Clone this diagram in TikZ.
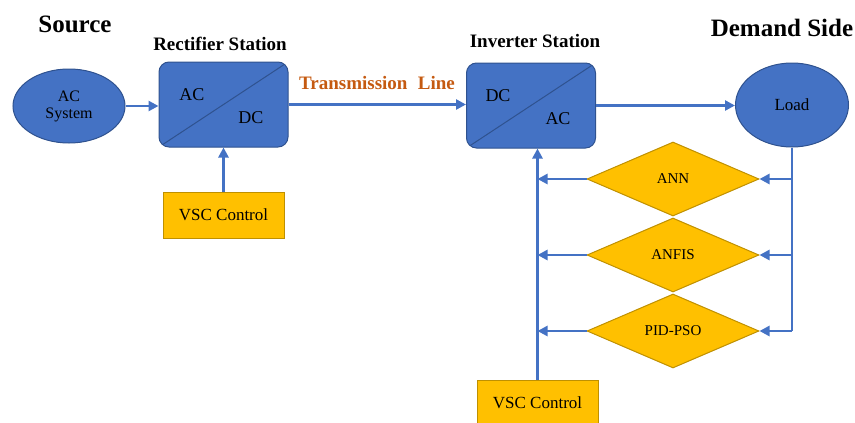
\documentclass[tikz,border=0pt]{standalone}
\usepackage{fontspec}
\setmainfont{Liberation Serif}
\usetikzlibrary{shapes.geometric,arrows.meta}

\definecolor{boxblue}{HTML}{4472C4}
\definecolor{boxedge}{HTML}{2F528F}
\definecolor{gold}{HTML}{FFC000}
\definecolor{goldedge}{HTML}{BF9000}
\definecolor{lineorange}{HTML}{C55A11}

\begin{document}
\begin{tikzpicture}[x=1pt,y=-1pt,
  station/.style={draw=boxedge, line width=1pt, fill=boxblue, rounded corners=10pt,
    minimum width=129pt, minimum height=85pt, inner sep=0pt,
    path picture={\draw[boxedge, line width=1pt]
      (path picture bounding box.south west) -- (path picture bounding box.north east);}},
  blob/.style={ellipse, draw=boxedge, line width=1pt, fill=boxblue, inner sep=0pt,
    align=center},
  ctrl/.style={draw=goldedge, line width=1pt, fill=gold, minimum width=121pt,
    minimum height=46pt, inner sep=0pt, font=\fontsize{17}{20}\selectfont},
  algo/.style={diamond, draw=goldedge, line width=1pt, fill=gold, minimum width=172pt,
    minimum height=74pt, inner sep=0pt, font=\fontsize{15}{18}\selectfont},
  conv/.style={anchor=base, font=\fontsize{18}{21}\selectfont},
  flow/.style={draw=boxblue, line width=2.5pt, -{Triangle[length=10pt,width=10pt]}},
  wire/.style={draw=boxblue, line width=2.5pt},
  bigtitle/.style={anchor=base, font=\fontsize{25}{28}\bfseries\selectfont},
  title/.style={anchor=base, font=\fontsize{19}{22}\bfseries\selectfont},
]
\useasboundingbox (0,0) rectangle (855,423);

% headings
\node[bigtitle] (tsrc) at (75,32) {Source};
\node[bigtitle] (tdem) at (782,36) {Demand Side};
\node[title] (trec) at (220,50) {Rectifier Station};
\node[title] (tinv) at (535,47) {Inverter Station};
\node[title, text=lineorange] (tline) at (377,89) {Transmission\hspace{0.3em} Line};

% source and load
\node[blob, minimum width=112pt, minimum height=74pt,
      font=\fontsize{16}{17}\selectfont] (acs) at (69,106) {AC\\System};
\node[blob, minimum width=113pt, minimum height=84pt,
      font=\fontsize{17}{20}\selectfont] (load) at (792,105) {Load};

% converter stations
\node[station] (rect) at (223.5,104.5) {};
\node[conv] (rac) at (192,100) {AC};
\node[conv] (rdc) at (251,123) {DC};

\node[station] (inv) at (531,105.5) {};
\node[conv] (idc) at (498,101) {DC};
\node[conv] (iac) at (558,124) {AC};

% control blocks
\node[ctrl] (vsc1) at (223.5,215) {VSC Control};
\node[ctrl] (vsc2) at (537.5,403) {VSC Control};

% controllers
\node[algo] (ann) at (673,179) {ANN};
\node[algo] (anfis) at (673,255) {ANFIS};
\node[algo] (pid) at (673,331) {PID-PSO};

% main power path
\draw[flow] (acs.east) -- (acs.east -| rect.west);
\draw[flow] (rect.east) -- (rect.east -| inv.west);
\draw[flow] (inv.east) -- (inv.east -| load.west);

% rectifier control
\draw[flow] (vsc1.north) -- (vsc1.north |- rect.south);

% feedback from the load through the controllers
\draw[wire] (load.south) -- (load.south |- pid.east);
\draw[flow] (load.south |- ann.east) -- (ann.east);
\draw[flow] (load.south |- anfis.east) -- (anfis.east);
\draw[flow] (load.south |- pid.east) -- (pid.east);

\draw[flow] (ann.west) -- (vsc2.north |- ann.west);
\draw[flow] (anfis.west) -- (vsc2.north |- anfis.west);
\draw[flow] (pid.west) -- (vsc2.north |- pid.west);
\draw[flow] (vsc2.north) -- (vsc2.north |- inv.south);
\end{tikzpicture}
\end{document}
